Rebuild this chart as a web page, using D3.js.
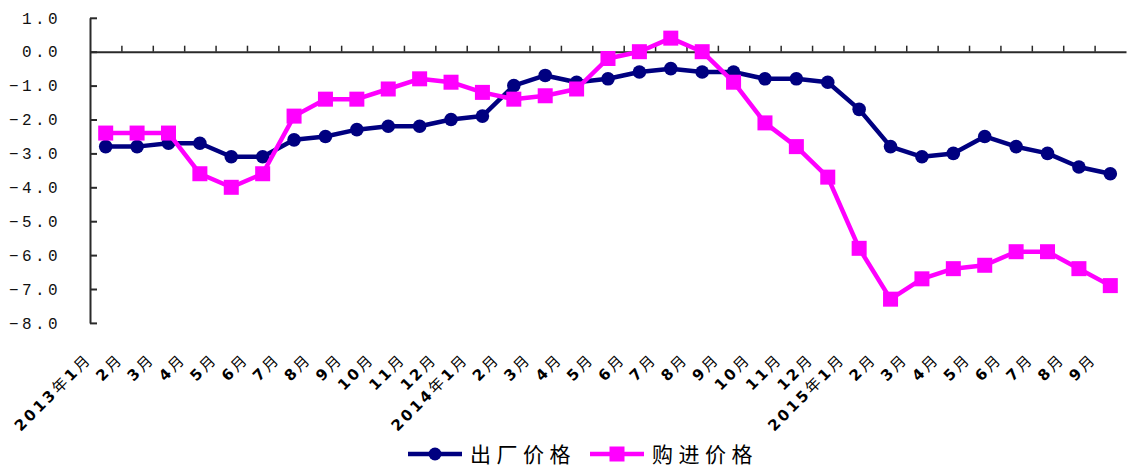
<!DOCTYPE html>
<html>
<head>
<meta charset="utf-8">
<script src="https://cdn.jsdelivr.net/npm/d3@7"></script>
<style>
  html, body { margin: 0; padding: 0; background: #fff; }
  svg { display: block; }
</style>
</head>
<body>
<svg id="chart" width="1127" height="469"></svg>
<script>
// Month labels along the category axis
const monthLabels = [
  "2013年1月", "2月", "3月", "4月", "5月", "6月", "7月", "8月", "9月", "10月", "11月", "12月",
  "2014年1月", "2月", "3月", "4月", "5月", "6月", "7月", "8月", "9月", "10月", "11月", "12月",
  "2015年1月", "2月", "3月", "4月", "5月", "6月", "7月", "8月", "9月"
];

// 出厂价格 (ex-factory prices), year-on-year %
const factoryPrice = [
  -2.8, -2.8, -2.7, -2.7, -3.1, -3.1, -2.6, -2.5, -2.3, -2.2, -2.2, -2.0,
  -1.9, -1.0, -0.7, -0.9, -0.8, -0.6, -0.5, -0.6, -0.6, -0.8, -0.8, -0.9,
  -1.7, -2.8, -3.1, -3.0, -2.5, -2.8, -3.0, -3.4, -3.6
];

// 购进价格 (purchase prices), year-on-year %
const purchasePrice = [
  -2.4, -2.4, -2.4, -3.6, -4.0, -3.6, -1.9, -1.4, -1.4, -1.1, -0.8, -0.9,
  -1.2, -1.4, -1.3, -1.1, -0.2, 0.0, 0.4, 0.0, -0.9, -2.1, -2.8, -3.7,
  -5.8, -7.3, -6.7, -6.4, -6.3, -5.9, -5.9, -6.4, -6.9
];

const yTicks = [1, 0, -1, -2, -3, -4, -5, -6, -7, -8];

const seriesNames = ["出厂价格", "购进价格"];
const seriesColors = ["#000080", "#ff00ff"];

const svg = d3.select("#chart");
const plot = { left: 90, right: 1126, top: 17.8, bottom: 322.9 };
const n = monthLabels.length;

const x = d3.scaleBand().domain(d3.range(n)).range([plot.left, plot.right]).padding(0);
const xEdge = d3.scaleLinear().domain([0, n]).range([plot.left, plot.right]);
const y = d3.scaleLinear().domain([-8, 1]).range([plot.bottom, plot.top]);
const cx = i => x(i) + x.bandwidth() / 2;

const axisColor = "#2a2a2a";

// Value axis: line with inward tick marks
const yAxisG = svg.append("g")
  .attr("transform", `translate(${plot.left},0)`)
  .call(d3.axisRight(y).tickValues(yTicks).tickSize(7).tickSizeOuter(0).tickFormat(""));
yAxisG.select(".domain").attr("stroke", axisColor).attr("stroke-width", 2);
yAxisG.selectAll(".tick line").attr("stroke", axisColor).attr("stroke-width", 2);

// Value labels
svg.append("g").selectAll("text")
  .data(yTicks)
  .join("text")
  .attr("x", 61)
  .attr("y", d => y(d))
  .attr("dy", "0.36em")
  .attr("text-anchor", "end")
  .attr("font-family", "Liberation Mono, DejaVu Sans Mono, monospace")
  .attr("font-size", 16)
  .attr("letter-spacing", 3.4)
  .attr("fill", "#111")
  .text(d => d3.format(".1f")(d));

// Category axis along the zero line, ticks at band edges pointing up
const xAxisG = svg.append("g")
  .attr("transform", `translate(0,${y(0)})`)
  .call(d3.axisTop(xEdge).tickValues(d3.range(1, n)).tickSize(6).tickSizeOuter(0).tickFormat(""));
xAxisG.select(".domain").attr("stroke", axisColor).attr("stroke-width", 2);
xAxisG.selectAll(".tick line").attr("stroke", axisColor).attr("stroke-width", 1.5);

// Rotated month labels below the plot; digits bold
const labelG = svg.append("g");
monthLabels.forEach((lab, i) => {
  const px = cx(i) - 13, py = 360;
  const t = labelG.append("text")
    .attr("transform", `translate(${px},${py}) rotate(-45)`)
    .attr("text-anchor", "end")
    .attr("font-family", "Noto Sans CJK SC, sans-serif")
    .attr("font-size", 15)
    .attr("letter-spacing", 2.8)
    .attr("fill", "#000");
  const parts = lab.match(/\d+|\D+/g);
  parts.forEach(p => {
    t.append("tspan")
      .attr("font-weight", /\d/.test(p) ? "bold" : "normal")
      .attr("font-family", /\d/.test(p) ? "DejaVu Sans, sans-serif" : "Noto Sans CJK SC, sans-serif")
      .text(p);
  });
});

const line = d3.line().x((d, i) => cx(i)).y(d => y(d));

// 出厂价格 series
svg.append("path")
  .datum(factoryPrice)
  .attr("fill", "none")
  .attr("stroke", seriesColors[0])
  .attr("stroke-width", 4.5)
  .attr("stroke-linejoin", "round")
  .attr("d", line);
svg.append("g").selectAll("circle")
  .data(factoryPrice)
  .join("circle")
  .attr("cx", (d, i) => cx(i))
  .attr("cy", d => y(d))
  .attr("r", 6.8)
  .attr("fill", seriesColors[0]);

// 购进价格 series
svg.append("path")
  .datum(purchasePrice)
  .attr("fill", "none")
  .attr("stroke", seriesColors[1])
  .attr("stroke-width", 4.5)
  .attr("stroke-linejoin", "round")
  .attr("d", line);
const sq = 15;
svg.append("g").selectAll("rect")
  .data(purchasePrice)
  .join("rect")
  .attr("x", (d, i) => cx(i) - sq / 2)
  .attr("y", d => y(d) - sq / 2)
  .attr("width", sq)
  .attr("height", sq)
  .attr("fill", seriesColors[1]);

// Legend
const legendY = 454;
const legendItems = [
  { x0: 408, name: seriesNames[0], color: seriesColors[0], shape: "circle" },
  { x0: 590, name: seriesNames[1], color: seriesColors[1], shape: "square" }
];
const lg = svg.append("g");
legendItems.forEach(it => {
  const g = lg.append("g");
  g.append("line")
    .attr("x1", it.x0).attr("x2", it.x0 + 54)
    .attr("y1", legendY).attr("y2", legendY)
    .attr("stroke", it.color).attr("stroke-width", 4.5);
  if (it.shape === "circle") {
    g.append("circle").attr("cx", it.x0 + 27).attr("cy", legendY).attr("r", 6.5).attr("fill", it.color);
  } else {
    g.append("rect").attr("x", it.x0 + 27 - 7.5).attr("y", legendY - 7.5)
      .attr("width", 15).attr("height", 15).attr("fill", it.color);
  }
  g.append("text")
    .attr("x", it.x0 + 62)
    .attr("y", legendY)
    .attr("dy", "0.36em")
    .attr("font-family", "Noto Sans CJK SC, sans-serif")
    .attr("font-size", 21)
    .attr("letter-spacing", 5.5)
    .attr("fill", "#000")
    .text(it.name);
});
</script>
</body>
</html>
